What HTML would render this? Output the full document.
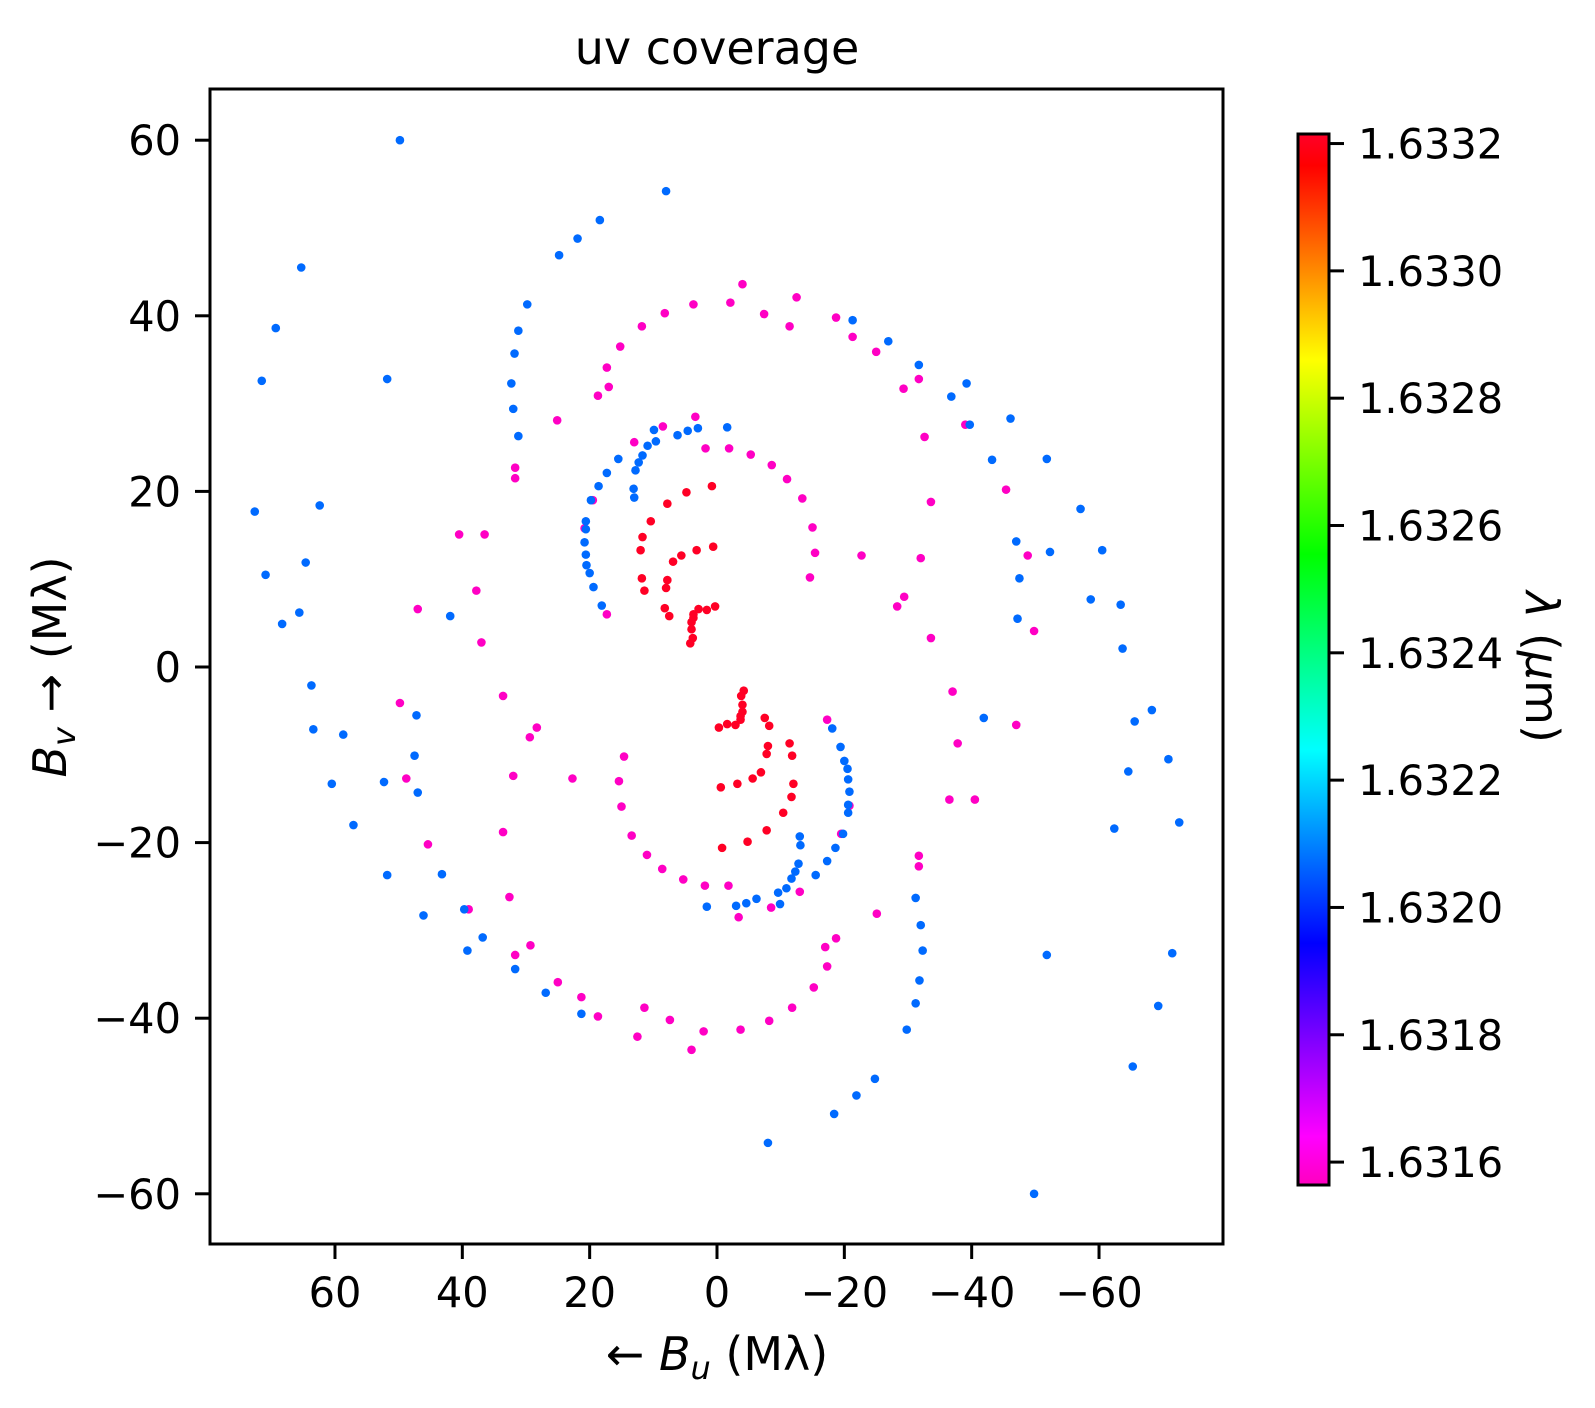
<!DOCTYPE html>
<html><head><meta charset="utf-8"><style>
html,body{margin:0;padding:0;background:#fff}
svg{display:block;font-family:"DejaVu Sans","Liberation Sans",sans-serif}
</style></head><body>
<svg id="chart" width="1595" height="1408" viewBox="0 0 1595 1408" xmlns="http://www.w3.org/2000/svg">
<defs>
<linearGradient id="cmap" x1="0" y1="1" x2="0" y2="0">
<stop offset="0" stop-color="#ff00bf"/>
<stop offset="0.046" stop-color="#ff00ff"/>
<stop offset="0.23" stop-color="#0000ff"/>
<stop offset="0.414" stop-color="#00ffff"/>
<stop offset="0.6" stop-color="#00ff00"/>
<stop offset="0.785" stop-color="#ffff00"/>
<stop offset="0.97" stop-color="#ff0000"/>
<stop offset="1" stop-color="#ff0029"/>
</linearGradient>
</defs>
<rect x="0" y="0" width="1595" height="1408" fill="#fff"/>
<text x="717" y="64" text-anchor="middle" font-size="46">uv coverage</text>
<g id="points"></g>
<rect x="210" y="89" width="1013" height="1155" fill="none" stroke="#000" stroke-width="3"/>
<g id="xticks"></g>
<g id="yticks"></g>
<text x="717" y="1370" text-anchor="middle" font-size="46">← <tspan font-style="italic">B</tspan><tspan font-style="italic" font-size="32" dy="9">u</tspan><tspan dy="-9"> (Mλ)</tspan></text>
<text transform="translate(66,667) rotate(-90)" text-anchor="middle" font-size="46"><tspan font-style="italic">B</tspan><tspan font-style="italic" font-size="32" dy="9">v</tspan><tspan dy="-9"> → (Mλ)</tspan></text>
<rect x="1298" y="134" width="31" height="1051" fill="url(#cmap)" stroke="#000" stroke-width="3"/>
<g id="cticks"></g>
<text transform="translate(1526,667) rotate(90)" text-anchor="middle" font-size="46"><tspan font-style="italic">λ</tspan> (<tspan font-style="italic">μ</tspan>m)</text>
</svg>
<script>
const xTicks = [60, 40, 20, 0, -20, -40, -60];
const yTicks = [60, 40, 20, 0, -20, -40, -60];
const cTicks = [1.6316, 1.6318, 1.6320, 1.6322, 1.6324, 1.6326, 1.6328, 1.6330, 1.6332];
const cTickLabels = ["1.6316","1.6318","1.6320","1.6322","1.6324","1.6326","1.6328","1.6330","1.6332"];

const blueLambda = 1.63207;
const blueU = [49.8,8.0,18.4,21.9,24.8,65.3,69.3,71.5,72.6,70.9,68.3,65.6,64.6,62.4,29.8,31.2,31.8,32.3,32.0,31.2,51.8,41.9,
63.7,63.4,58.7,60.5,57.1,47.2,47.5,47.0,52.3,51.8,43.2,46.1,39.7,39.2,36.8,31.7,26.9,21.3,
-1.6,3.0,4.6,6.2,9.6,9.9,10.9,11.7,12.3,12.8,15.5,17.3,18.6,19.8,20.6,20.6,20.8,20.6,20.5,20.0,19.4,18.1,13.1,13.0,
-49.8,-8.0,-18.4,-21.9,-24.8,-65.3,-69.3,-71.5,-72.6,-70.9,-68.3,-65.6,-64.6,-62.4,-29.8,-31.2,-31.8,-32.3,-32.0,-31.2,-51.8,-41.9,
-63.7,-63.4,-58.7,-60.5,-57.1,-47.2,-47.5,-47.0,-52.3,-51.8,-43.2,-46.1,-39.7,-39.2,-36.8,-31.7,-26.9,-21.3,
1.6,-3.0,-4.6,-6.2,-9.6,-9.9,-10.9,-11.7,-12.3,-12.8,-15.5,-17.3,-18.6,-19.8,-20.6,-20.6,-20.8,-20.6,-20.5,-20.0,-19.4,-18.1,-13.1,-13.0];
const blueV = [60.0,54.2,50.9,48.8,46.9,45.5,38.6,32.6,17.7,10.5,4.9,6.2,11.9,18.4,41.3,38.3,35.7,32.3,29.4,26.3,32.8,5.8,
-2.1,-7.1,-7.7,-13.3,-18.0,-5.5,-10.1,-14.3,-13.1,-23.7,-23.6,-28.3,-27.6,-32.3,-30.8,-34.4,-37.1,-39.5,
27.3,27.2,26.9,26.4,25.7,27.0,25.2,24.1,23.3,22.4,23.7,22.1,20.6,19.0,16.6,15.7,14.2,12.8,11.6,10.7,9.1,7.0,20.3,19.3,
-60.0,-54.2,-50.9,-48.8,-46.9,-45.5,-38.6,-32.6,-17.7,-10.5,-4.9,-6.2,-11.9,-18.4,-41.3,-38.3,-35.7,-32.3,-29.4,-26.3,-32.8,-5.8,
2.1,7.1,7.7,13.3,18.0,5.5,10.1,14.3,13.1,23.7,23.6,28.3,27.6,32.3,30.8,34.4,37.1,39.5,
-27.3,-27.2,-26.9,-26.4,-25.7,-27.0,-25.2,-24.1,-23.3,-22.4,-23.7,-22.1,-20.6,-19.0,-16.6,-15.7,-14.2,-12.8,-11.6,-10.7,-9.1,-7.0,-20.3,-19.3];

const pinkLambda = 1.63157;
const pinkU = [-4.0,-12.5,-2.1,3.7,8.2,-7.4,11.8,-11.4,-18.7,-21.3,-25.0,15.2,17.3,17.0,18.7,25.1,-29.3,-31.7,-32.6,-39.0,-45.4,-33.6,-32.0,-22.7,-29.4,-28.3,-33.6,-48.8,-49.8,
3.4,8.5,13.0,1.8,-1.9,-5.3,-8.6,-11.0,-13.4,-15.0,-15.4,-14.6,20.8,19.5,17.3,31.7,31.7,
40.5,36.5,37.8,47.0,37.0,
4.0,12.5,2.1,-3.7,-8.2,7.4,-11.8,11.4,18.7,21.3,25.0,-15.2,-17.3,-17.0,-18.7,-25.1,29.3,31.7,32.6,39.0,45.4,33.6,32.0,22.7,29.4,28.3,33.6,48.8,49.8,
-3.4,-8.5,-13.0,-1.8,1.9,5.3,8.6,11.0,13.4,15.0,15.4,14.6,-20.8,-19.5,-17.3,-31.7,-31.7,
-40.5,-36.5,-37.8,-47.0,-37.0];
const pinkV = [43.6,42.1,41.5,41.3,40.3,40.2,38.8,38.8,39.8,37.6,35.9,36.5,34.1,31.9,30.9,28.1,31.7,32.8,26.2,27.6,20.2,18.8,12.4,12.7,8.0,6.9,3.3,12.7,4.1,
28.5,27.4,25.6,24.9,24.9,24.2,23.0,21.4,19.2,15.9,13.0,10.2,15.8,19.0,6.0,22.7,21.5,
15.1,15.1,8.7,6.6,2.8,
-43.6,-42.1,-41.5,-41.3,-40.3,-40.2,-38.8,-38.8,-39.8,-37.6,-35.9,-36.5,-34.1,-31.9,-30.9,-28.1,-31.7,-32.8,-26.2,-27.6,-20.2,-18.8,-12.4,-12.7,-8.0,-6.9,-3.3,-12.7,-4.1,
-28.5,-27.4,-25.6,-24.9,-24.9,-24.2,-23.0,-21.4,-19.2,-15.9,-13.0,-10.2,-15.8,-19.0,-6.0,-22.7,-21.5,
-15.1,-15.1,-8.7,-6.6,-2.8];

const redLambda = 1.63321;
const redU = [0.8,4.8,7.8,10.4,11.7,12.0,11.8,11.4,8.0,7.8,8.2,7.5,6.9,5.6,3.2,0.6,2.9,1.6,0.3,3.7,4.0,4.0,3.8,4.2,3.7,
-0.8,-4.8,-7.8,-10.4,-11.7,-12.0,-11.8,-11.4,-8.0,-7.8,-8.2,-7.5,-6.9,-5.6,-3.2,-0.6,-2.9,-1.6,-0.3,-3.7,-4.0,-4.0,-3.8,-4.2,-3.7];
const redV = [20.6,19.9,18.6,16.6,14.8,13.3,10.1,8.7,9.0,9.9,6.7,5.8,12.0,12.7,13.3,13.7,6.6,6.5,6.9,6.0,5.1,4.3,3.3,2.7,5.6,
-20.6,-19.9,-18.6,-16.6,-14.8,-13.3,-10.1,-8.7,-9.0,-9.9,-6.7,-5.8,-12.0,-12.7,-13.3,-13.7,-6.6,-6.5,-6.9,-6.0,-5.1,-4.3,-3.3,-2.7,-5.6];

const NS = "http://www.w3.org/2000/svg";
function xScale(u){ return 717 - u * 6.367; }
function yScale(v){ return 667 - v * 8.78; }
const cMin = 1.631564, cMax = 1.633215;
function cScale(l){ return 1185 - (l - cMin) / (cMax - cMin) * 1051; }
const stops = [[0,[255,0,191]],[0.046,[255,0,255]],[0.23,[0,0,255]],[0.414,[0,255,255]],[0.6,[0,255,0]],[0.785,[255,255,0]],[0.97,[255,0,0]],[1,[255,0,41]]];
function cmap(l){
  let t = (l - cMin) / (cMax - cMin);
  t = Math.max(0, Math.min(1, t));
  for (let i = 1; i < stops.length; i++) {
    if (t <= stops[i][0]) {
      const a = stops[i-1], b = stops[i];
      const f = (t - a[0]) / (b[0] - a[0]);
      const c = a[1].map((x, k) => Math.round(x + (b[1][k] - x) * f));
      return "rgb(" + c.join(",") + ")";
    }
  }
  return "rgb(255,0,41)";
}
function mk(tag, attrs, parent){
  const el = document.createElementNS(NS, tag);
  for (const k in attrs) el.setAttribute(k, attrs[k]);
  parent.appendChild(el);
  return el;
}
const pts = document.getElementById("points");
function drawSeries(us, vs, lam, name){
  const col = cmap(lam);
  for (let i = 0; i < us.length; i++) {
    const c = mk("circle", {cx: xScale(us[i]), cy: yScale(vs[i]), r: 4.3, fill: col}, pts);
    
    
  }
}
drawSeries(pinkU, pinkV, pinkLambda, 'uv-point-pink');
drawSeries(blueU, blueV, blueLambda, 'uv-point-blue');
drawSeries(redU, redV, redLambda, 'uv-point-red');

const xg = document.getElementById("xticks");
xTicks.forEach(t => {
  const x = xScale(t);
  const ln = mk("line", {x1: x, x2: x, y1: 1244, y2: 1259, stroke: "#000", "stroke-width": 3}, xg);
  
  
  const tx = mk("text", {x: x, y: 1307, "text-anchor": "middle", "font-size": 41.5}, xg);
  tx.textContent = t < 0 ? "\u2212" + (-t) : String(t);
  
  
});
const yg = document.getElementById("yticks");
yTicks.forEach(t => {
  const y = yScale(t);
  const ln = mk("line", {x1: 195, x2: 210, y1: y, y2: y, stroke: "#000", "stroke-width": 3}, yg);
  
  
  const tx = mk("text", {x: 181, y: y + 15, "text-anchor": "end", "font-size": 41.5}, yg);
  tx.textContent = t < 0 ? "\u2212" + (-t) : String(t);
  
  
});
const cg = document.getElementById("cticks");
cTicks.forEach((t, i) => {
  const y = cScale(t);
  const ln = mk("line", {x1: 1329, x2: 1344, y1: y, y2: y, stroke: "#000", "stroke-width": 3}, cg);
  
  
  const tx = mk("text", {x: 1358, y: y + 15, "font-size": 41.5}, cg);
  tx.textContent = cTickLabels[i];
  
  
});
</script>
</body></html>
